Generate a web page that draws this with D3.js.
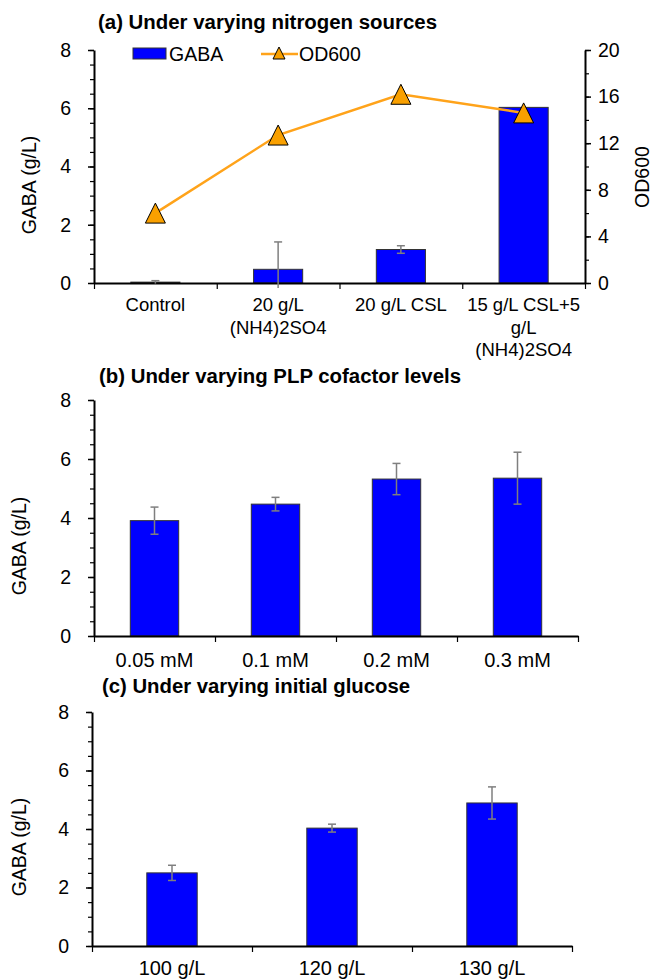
<!DOCTYPE html>
<html>
<head>
<meta charset="utf-8">
<script src="https://cdn.jsdelivr.net/npm/d3@7"></script>
<style>
  body { margin: 0; background: #fff; }
  text { font-family: "Liberation Sans", Arial, sans-serif; fill: #000; }
  .title { font-family: "Liberation Sans Narrow", "Arial Narrow", "Liberation Sans", Arial, sans-serif; font-weight: bold; }
</style>
</head>
<body>
<div id="chart"></div>
<script>
// DATA
const nitrogenCats = ["Control", "20 g/L\n(NH4)2SO4", "20 g/L CSL", "15 g/L CSL+5\ng/L\n(NH4)2SO4"];
const nitrogenGaba = [0.03, 0.47, 1.15, 6.03];
const nitrogenGabaErr = [0.05, 0.94, 0.13, 0];
const nitrogenOD = [6.0, 12.7, 16.2, 14.6];

const plpCats = ["0.05 mM", "0.1 mM", "0.2 mM", "0.3 mM"];
const plpGaba = [3.91, 4.47, 5.32, 5.35];
const plpErr = [0.46, 0.23, 0.53, 0.88];

const glucoseCats = ["100 g/L", "120 g/L", "130 g/L"];
const glucoseGaba = [2.50, 4.03, 4.89];
const glucoseErr = [0.26, 0.135, 0.55];

const gabaTicks = [0, 2, 4, 6, 8];
const odTicks = [0, 4, 8, 12, 16, 20];

const BLUE = "#0000FF";
const ORANGE_LINE = "#FFA31A";
const ORANGE_MARK = "#F9A000";

const svg = d3.select("#chart").append("svg")
    .attr("width", 654)
    .attr("height", 979);

// draws one bar panel, returns scales
function drawPanel(cfg) {
    const g = svg.append("g");
    const n = cfg.cats.length;

    const x = d3.scaleBand()
        .domain(cfg.cats)
        .range([cfg.x0, cfg.x1])
        .paddingInner(cfg.pad)
        .paddingOuter(cfg.pad / 2);

    const xEdge = d3.scaleLinear().domain([0, n]).range([cfg.x0, cfg.x1]);

    const y = d3.scaleLinear().domain([0, 8]).range([cfg.yBottom, cfg.yTop]);

    // title
    g.append("text")
        .attr("class", "title")
        .attr("x", cfg.titleX)
        .attr("y", cfg.titleY)
        .attr("font-size", "20px")
        .attr("textLength", cfg.titleW)
        .attr("lengthAdjust", "spacingAndGlyphs")
        .text(cfg.title);

    // bars
    g.selectAll(".bar")
        .data(cfg.values)
        .enter()
        .append("rect")
        .attr("x", (d, i) => x(cfg.cats[i]))
        .attr("y", d => y(d))
        .attr("width", x.bandwidth())
        .attr("height", d => y(0) - y(d))
        .attr("fill", BLUE)
        .attr("stroke", "#333")
        .attr("stroke-width", 1);

    // minor y ticks
    g.append("g")
        .attr("transform", `translate(${cfg.x0},0)`)
        .call(d3.axisLeft(y).tickValues(d3.range(0, 8.01, 0.5)).tickSize(4).tickFormat(""))
        .call(a => a.select(".domain").remove())
        .call(a => a.selectAll("line").attr("stroke", "#000").attr("stroke-width", 1.2));

    // main y axis
    g.append("g")
        .attr("transform", `translate(${cfg.x0},0)`)
        .call(d3.axisLeft(y).tickValues(gabaTicks).tickSize(6).tickSizeOuter(0).tickPadding(17))
        .call(a => a.select(".domain").attr("stroke", "#000").attr("stroke-width", 2))
        .call(a => a.selectAll("line").attr("stroke", "#000").attr("stroke-width", 1.5))
        .call(a => a.selectAll("text").attr("font-size", cfg.tickFont).attr("font-family", "Liberation Sans, Arial, sans-serif"));

    // x axis with ticks at category edges
    g.append("g")
        .attr("transform", `translate(0,${cfg.yBottom})`)
        .call(d3.axisBottom(xEdge).tickValues(d3.range(n + 1)).tickSize(6).tickSizeOuter(0).tickFormat(""))
        .call(a => a.select(".domain").attr("stroke", "#000").attr("stroke-width", 2))
        .call(a => a.selectAll("line").attr("stroke", "#000").attr("stroke-width", 1.2));

    // error bars
    const eb = g.selectAll(".err")
        .data(cfg.values.map((v, i) => ({ v, e: cfg.errs[i], c: cfg.cats[i] })).filter(d => d.e > 0))
        .enter()
        .append("g")
        .attr("stroke", "#7F7F7F")
        .attr("stroke-width", 1.5);

    const cx = d => x(d.c) + x.bandwidth() / 2;
    eb.append("line")
        .attr("x1", cx).attr("x2", cx)
        .attr("y1", d => y(d.v + d.e))
        .attr("y2", d => y(Math.max(d.v - d.e, -0.17)));
    eb.append("line")
        .attr("x1", d => cx(d) - 4).attr("x2", d => cx(d) + 4)
        .attr("y1", d => y(d.v + d.e)).attr("y2", d => y(d.v + d.e));
    eb.filter(d => d.v - d.e > 0)
        .append("line")
        .attr("x1", d => cx(d) - 4).attr("x2", d => cx(d) + 4)
        .attr("y1", d => y(d.v - d.e)).attr("y2", d => y(d.v - d.e));

    // category labels
    g.selectAll(".xlab")
        .data(cfg.cats)
        .enter()
        .append("text")
        .attr("text-anchor", "middle")
        .attr("font-size", cfg.labFont)
        .each(function (d) {
            d3.select(this).selectAll("tspan")
                .data(d.split("\n"))
                .enter()
                .append("tspan")
                .attr("x", x(d) + x.bandwidth() / 2)
                .attr("y", (_, j) => cfg.labY + j * cfg.labLine)
                .text(t => t);
        });

    // y axis title
    g.append("text")
        .attr("transform", `translate(${cfg.yLabX},${cfg.yLabY}) rotate(-90)`)
        .attr("text-anchor", "middle")
        .attr("font-size", cfg.tickFont)
        .text("GABA (g/L)");

    return { g, x, y };
}

// (a) nitrogen sources
const pa = drawPanel({
    cats: nitrogenCats, values: nitrogenGaba, errs: nitrogenGabaErr,
    x0: 94, x1: 585, yTop: 50, yBottom: 283, pad: 0.6,
    title: "(a) Under varying nitrogen sources", titleX: 98, titleY: 29, titleW: 339,
    tickFont: "19.5px", labFont: "18.5px", labY: 311, labLine: 22.5,
    yLabX: 36, yLabY: 185
});

const yOD = d3.scaleLinear().domain([0, 20]).range([283, 50]);

// right axis minor ticks
pa.g.append("g")
    .attr("transform", "translate(585,0)")
    .call(d3.axisRight(yOD).tickValues(d3.range(0, 20.01, 2)).tickSize(4).tickFormat(""))
    .call(a => a.select(".domain").remove())
    .call(a => a.selectAll("line").attr("stroke", "#000").attr("stroke-width", 1.2));

pa.g.append("g")
    .attr("transform", "translate(585,0)")
    .call(d3.axisRight(yOD).tickValues(odTicks).tickSize(6).tickSizeOuter(0).tickPadding(7))
    .call(a => a.select(".domain").attr("stroke", "#000").attr("stroke-width", 2))
    .call(a => a.selectAll("line").attr("stroke", "#000").attr("stroke-width", 1.5))
    .call(a => a.selectAll("text").attr("font-size", "19.5px").attr("font-family", "Liberation Sans, Arial, sans-serif"));

pa.g.append("text")
    .attr("transform", "translate(649,177) rotate(-90)")
    .attr("text-anchor", "middle")
    .attr("font-size", "19.5px")
    .text("OD600");

const odLine = d3.line()
    .x((d, i) => pa.x(nitrogenCats[i]) + pa.x.bandwidth() / 2)
    .y(d => yOD(d));

pa.g.append("path")
    .datum(nitrogenOD)
    .attr("fill", "none")
    .attr("stroke", ORANGE_LINE)
    .attr("stroke-width", 2.5)
    .attr("d", odLine);

const tri = s => `M0,${-s / 2}L${s / 2},${s / 2}L${-s / 2},${s / 2}Z`;

pa.g.selectAll(".od")
    .data(nitrogenOD)
    .enter()
    .append("path")
    .attr("transform", (d, i) => `translate(${pa.x(nitrogenCats[i]) + pa.x.bandwidth() / 2},${yOD(d)})`)
    .attr("d", tri(20))
    .attr("fill", ORANGE_MARK)
    .attr("stroke", "#000")
    .attr("stroke-width", 1);

// legend
const leg = pa.g.append("g");
leg.append("rect")
    .attr("x", 133).attr("y", 48)
    .attr("width", 33).attr("height", 11)
    .attr("fill", BLUE).attr("stroke", "#333");
leg.append("text")
    .attr("x", 169).attr("y", 61)
    .attr("font-size", "19.5px")
    .text("GABA");
leg.append("line")
    .attr("x1", 261).attr("x2", 298)
    .attr("y1", 54).attr("y2", 54)
    .attr("stroke", ORANGE_LINE).attr("stroke-width", 2.5);
leg.append("path")
    .attr("transform", "translate(279,53)")
    .attr("d", tri(12))
    .attr("fill", ORANGE_MARK)
    .attr("stroke", "#000");
leg.append("text")
    .attr("x", 299).attr("y", 61)
    .attr("font-size", "19.5px")
    .text("OD600");

// (b) PLP cofactor
drawPanel({
    cats: plpCats, values: plpGaba, errs: plpErr,
    x0: 94, x1: 578, yTop: 400, yBottom: 636, pad: 0.6,
    title: "(b) Under varying PLP cofactor levels", titleX: 99, titleY: 383, titleW: 362,
    tickFont: "19.5px", labFont: "20px", labY: 667, labLine: 22,
    yLabX: 26, yLabY: 546
});

// (c) initial glucose
drawPanel({
    cats: glucoseCats, values: glucoseGaba, errs: glucoseErr,
    x0: 92, x1: 572, yTop: 712, yBottom: 946, pad: 0.685,
    title: "(c) Under varying initial glucose", titleX: 102, titleY: 693, titleW: 308,
    tickFont: "19.5px", labFont: "20px", labY: 975, labLine: 22,
    yLabX: 26, yLabY: 847
});
</script>
</body>
</html>
